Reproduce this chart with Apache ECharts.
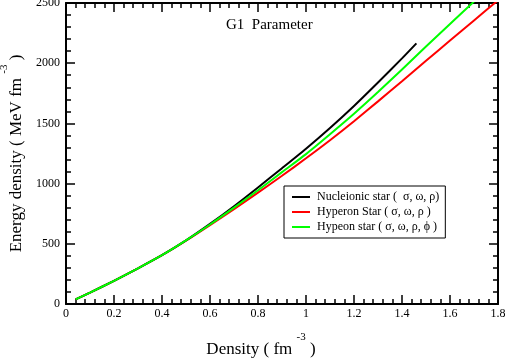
<!DOCTYPE html>
<html>
<head>
<meta charset="utf-8">
<script src="https://cdn.jsdelivr.net/npm/echarts@6/dist/echarts.min.js"></script>
<style>html,body{margin:0;padding:0;background:#fff}#c{width:505px;height:363px}</style>
</head>
<body>
<div id="c"></div>
<script>
var densityNucleonic = [0.04,0.1,0.2,0.3,0.4,0.5,0.6,0.7,0.8,0.9,1.0,1.1,1.2,1.3,1.4,1.46];
var energyNucleonic  = [38,95,192,296,405,528,665,812,968,1128,1290,1462,1645,1840,2040,2165];
var densityHyperon   = [0.04,0.1,0.2,0.3,0.4,0.5,0.6,0.7,0.8,0.9,1.0,1.1,1.2,1.3,1.4,1.5,1.6,1.7,1.8];
var energyHyperon    = [38,95,192,296,405,526,655,788,925,1065,1210,1360,1518,1683,1850,2020,2188,2355,2522];
var densityHypeonPhi = [0.04,0.1,0.2,0.3,0.4,0.5,0.6,0.7,0.8,0.9,1.0,1.1,1.2,1.3,1.4,1.5,1.6,1.7];
var energyHypeonPhi  = [38,95,192,296,405,528,660,800,945,1095,1245,1410,1580,1760,1948,2138,2325,2512];
var seriesNames = ['Nucleionic star (  σ, ω, ρ)', 'Hyperon Star ( σ, ω, ρ )', 'Hypeon star ( σ, ω, ρ, ϕ )'];
var titleText = 'G1  Parameter';

function zip(a, b) { return a.map(function (v, i) { return [v, b[i]]; }); }

var FONT = '"Liberation Serif", "DejaVu Serif", serif';
var chart = echarts.init(document.getElementById('c'), null, {renderer: 'canvas'});

function axisLine() { return {show: true, onZero: false, lineStyle: {color: '#000', width: 2}}; }
function axisTick() { return {show: true, inside: true, length: 9, lineStyle: {color: '#000', width: 1.5}}; }
function minorTick() { return {show: true, splitNumber: 5, length: 5, lineStyle: {color: '#000', width: 1.5}}; }
var rich = {
  m: {fontSize: 17, fontFamily: FONT, color: '#000', lineHeight: 26, verticalAlign: 'bottom'},
  s: {fontSize: 11, fontFamily: FONT, color: '#000', lineHeight: 11, verticalAlign: 'top'}
};
function plain(v) { return String(+v.toFixed(2)); }

chart.setOption({
  animation: false,
  backgroundColor: '#fff',
  title: {
    text: titleText, left: 226, top: 18, padding: 0,
    textStyle: {fontFamily: FONT, fontSize: 15, fontWeight: 'normal', color: '#000'}
  },
  grid: {left: 66, right: 7, top: 3, bottom: 59, containLabel: false, outerBoundsMode: 'none'},
  legend: {
    orient: 'vertical', left: 284, top: 186,
    padding: [5, 6, 5, 8], itemGap: 3, itemWidth: 18, itemHeight: 2, icon: 'rect',
    borderColor: '#000', borderWidth: 1, backgroundColor: '#fff',
    textStyle: {fontFamily: FONT, fontSize: 12, lineHeight: 12, color: '#000', padding: [0, 0, 0, 2]},
    data: seriesNames
  },
  xAxis: [{
    type: 'value', min: 0, max: 1.8, interval: 0.2, position: 'bottom',
    axisLine: axisLine(), axisTick: axisTick(), minorTick: minorTick(),
    splitLine: {show: false}, minorSplitLine: {show: false},
    axisLabel: {fontFamily: FONT, fontSize: 12, color: '#000', margin: 4, formatter: plain},
    name: '{m|Density ( fm }{s|-3}{m| )}', nameLocation: 'middle', nameGap: 28,
    nameTextStyle: {rich: rich, padding: [0, 42, 0, 0]}
  }, {
    type: 'value', min: 0, max: 1.8, interval: 0.2, position: 'top',
    axisLine: axisLine(), axisTick: axisTick(), minorTick: minorTick(),
    splitLine: {show: false}, axisLabel: {show: false}
  }],
  yAxis: [{
    type: 'value', min: 0, max: 2500, interval: 500, position: 'left',
    axisLine: axisLine(), axisTick: axisTick(), minorTick: minorTick(),
    splitLine: {show: false}, minorSplitLine: {show: false},
    axisLabel: {fontFamily: FONT, fontSize: 12, color: '#000', margin: 6, formatter: plain},
    name: '{m|Energy density ( MeV fm }{s|-3}{m| )}', nameLocation: 'middle', nameGap: 27,
    nameTextStyle: {rich: rich}
  }, {
    type: 'value', min: 0, max: 2500, interval: 500, position: 'right',
    axisLine: axisLine(), axisTick: axisTick(), minorTick: minorTick(),
    splitLine: {show: false}, axisLabel: {show: false}
  }],
  series: [{
    name: seriesNames[0], type: 'line', data: zip(densityNucleonic, energyNucleonic),
    showSymbol: false, symbol: 'none', smooth: 0.2,
    lineStyle: {color: '#000', width: 2}, itemStyle: {color: '#000'}, z: 3
  }, {
    name: seriesNames[1], type: 'line', data: zip(densityHyperon, energyHyperon),
    showSymbol: false, symbol: 'none', smooth: 0.2,
    lineStyle: {color: '#ff0000', width: 2}, itemStyle: {color: '#ff0000'}, z: 2
  }, {
    name: seriesNames[2], type: 'line', data: zip(densityHypeonPhi, energyHypeonPhi),
    showSymbol: false, symbol: 'none', smooth: 0.2,
    lineStyle: {color: '#00ff00', width: 2}, itemStyle: {color: '#00ff00'}, z: 4
  }]
});
</script>
</body>
</html>
